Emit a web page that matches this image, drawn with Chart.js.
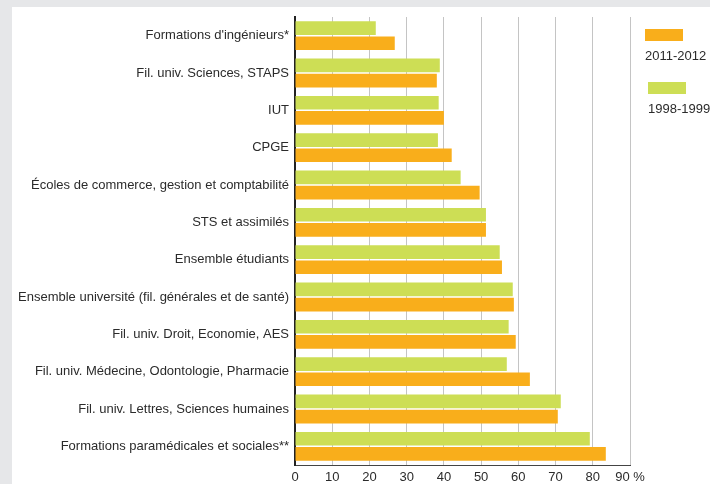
<!DOCTYPE html>
<html>
<head>
<meta charset="utf-8">
<script src="https://cdn.jsdelivr.net/npm/chart.js@4/dist/chart.umd.min.js"></script>
<style>
    html, body { margin: 0; padding: 0; background: #e6e7e9; overflow: hidden; }
    #panel { position: absolute; left: 12px; top: 7px; right: 0; bottom: 0; background: #fff; }
    #chart { position: absolute; left: 0; top: 0; }
</style>
</head>
<body>
<div id="panel"></div>
<canvas id="chart" width="710" height="484"></canvas>
<script>
const categories = [
    "Formations d'ingénieurs*",
    'Fil. univ. Sciences, STAPS',
    'IUT',
    'CPGE',
    'Écoles de commerce, gestion et comptabilité',
    'STS et assimilés',
    'Ensemble étudiants',
    'Ensemble université (fil. générales et de santé)',
    'Fil. univ. Droit, Economie, AES',
    'Fil. univ. Médecine, Odontologie, Pharmacie',
    'Fil. univ. Lettres, Sciences humaines',
    'Formations paramédicales et sociales**'
];
const values1998 = [21.7, 38.9, 38.6, 38.4, 44.5, 51.3, 55.0, 58.5, 57.4, 56.9, 71.4, 79.2];
const values2011 = [26.8, 38.1, 40.0, 42.1, 49.6, 51.3, 55.6, 58.8, 59.3, 63.1, 70.6, 83.5];
const xTickLabels = ['0', '10', '20', '30', '40', '50', '60', '70', '80', '90 %'];

const FONT = '"Liberation Sans", Arial, sans-serif';
const TEXT = '#2b2b2b';
const ORANGE = '#f9ae1b';
const GREEN = '#cdde55';

// legend drawn by hand on the right, 2011-2012 first
const sideLegend = {
    id: 'sideLegend',
    afterDraw(chart) {
        const ctx = chart.ctx;
        const sets = chart.data.datasets;
        const items = [
            { ds: sets[1], x: 645, y: 29 },
            { ds: sets[0], x: 648, y: 82 }
        ];
        ctx.save();
        ctx.font = '13px ' + FONT;
        ctx.textBaseline = 'middle';
        ctx.textAlign = 'left';
        items.forEach(it => {
            ctx.fillStyle = it.ds.backgroundColor;
            ctx.fillRect(it.x, it.y, 38, 12);
            ctx.fillStyle = TEXT;
            ctx.fillText(it.ds.label, it.x, it.y + 27);
        });
        ctx.restore();
    }
};

const ctx = document.getElementById('chart').getContext('2d');
new Chart(ctx, {
    type: 'bar',
    data: {
        labels: categories,
        datasets: [{
            label: '1998-1999',
            data: values1998,
            backgroundColor: GREEN
        }, {
            label: '2011-2012',
            data: values2011,
            backgroundColor: ORANGE
        }]
    },
    options: {
        indexAxis: 'y',
        responsive: false,
        animation: false,
        devicePixelRatio: 1,
        categoryPercentage: 0.81,
        barPercentage: 0.905,
        layout: {
            padding: { left: 0, right: 80, top: 17, bottom: 0 }
        },
        plugins: {
            legend: { display: false },
            tooltip: { enabled: false }
        },
        scales: {
            x: {
                min: 0,
                max: 90,
                ticks: {
                    stepSize: 10,
                    padding: 5,
                    color: TEXT,
                    font: { family: FONT, size: 13 },
                    maxRotation: 0,
                    callback: (v, i) => xTickLabels[i]
                },
                grid: { color: '#c4c4c4', lineWidth: 1, drawTicks: false },
                border: { display: true, color: '#444', width: 1 },
                afterFit(scale) { scale.height = 19; }
            },
            y: {
                ticks: {
                    padding: 6,
                    color: TEXT,
                    font: { family: FONT, size: 13 }
                },
                grid: { display: false, drawTicks: false },
                border: { display: true, color: '#222', width: 2 },
                afterFit(scale) { scale.width = 295; }
            }
        }
    },
    plugins: [sideLegend]
});
</script>
</body>
</html>
